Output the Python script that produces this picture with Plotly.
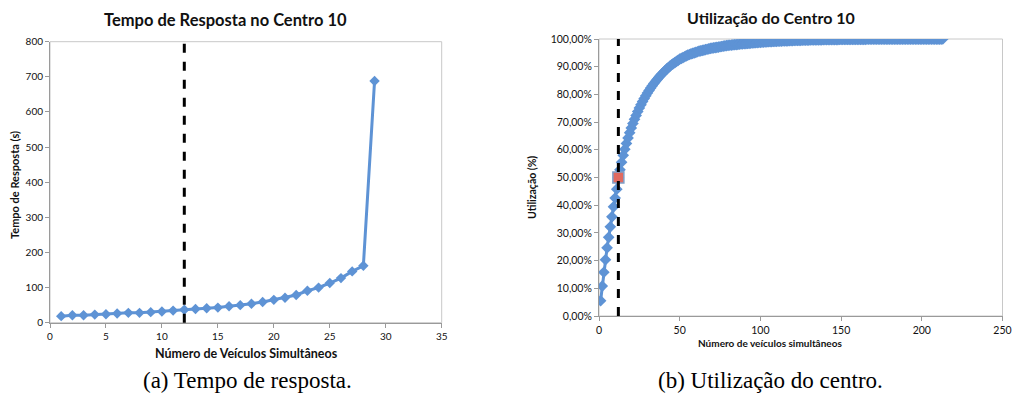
import plotly.graph_objects as go

# ---- Data: chart (a) ----
veiculos_a = list(range(1, 30))
tempo_resposta = [18.7, 21, 21, 23, 24, 26, 28, 28, 30, 32,
                  34.5, 37, 39, 41, 43, 47, 50, 54, 59, 65,
                  71, 79, 91, 100, 113, 127, 146, 162, 688]

# ---- Data: chart (b) ----
veiculos_b = list(range(1, 214))
utilizacao_pct = [
    5.5, 10.8, 15.8, 20.3, 24.6, 28.4, 32.2, 35.8, 39.4, 42.6,
    45.8, 50.0, 52.8, 55.5, 58.0, 60.2, 62.3, 64.3, 66.2, 67.9,
    69.5, 71.0, 72.4, 73.8, 75.1, 76.3, 77.4, 78.5, 79.5, 80.5,
    81.4, 82.3, 83.1, 83.9, 84.7, 85.4, 86.1, 86.8, 87.4, 88.0,
    88.6, 89.2, 89.7, 90.2, 90.7, 91.1, 91.5, 91.9, 92.3, 92.7,
    93.0, 93.3, 93.6, 93.9, 94.2, 94.4, 94.6, 94.8, 95.0, 95.2,
    95.4, 95.6, 95.7, 95.9, 96.0, 96.2, 96.3, 96.4, 96.6, 96.7,
    96.8, 96.9, 97.0, 97.1, 97.2, 97.3, 97.4, 97.5, 97.6, 97.7,
    97.75, 97.8, 97.9, 97.95, 98.0, 98.05, 98.1, 98.2, 98.25, 98.3,
    98.35, 98.4, 98.45, 98.5, 98.55, 98.6, 98.65, 98.7, 98.75, 98.8,
    98.85, 98.9, 98.92, 98.95, 99.0, 99.03, 99.06, 99.1, 99.13, 99.16,
    99.19, 99.22, 99.25, 99.27, 99.3, 99.32, 99.35, 99.38, 99.4, 99.43,
    99.45, 99.47, 99.49, 99.51, 99.53, 99.55, 99.57, 99.58, 99.6, 99.61,
    99.63, 99.64, 99.66, 99.67, 99.68, 99.7, 99.71, 99.72, 99.73, 99.74,
    99.75, 99.76, 99.77, 99.78, 99.79, 99.8, 99.8, 99.81, 99.82, 99.83,
    99.83, 99.84, 99.85, 99.85, 99.86, 99.86, 99.87, 99.87, 99.88, 99.88,
    99.89, 99.89, 99.9, 99.9, 99.9, 99.91, 99.91, 99.91, 99.92, 99.92,
    99.92, 99.93, 99.93, 99.93, 99.93, 99.94, 99.94, 99.94, 99.94, 99.95,
    99.95, 99.95, 99.95, 99.95, 99.96, 99.96, 99.96, 99.96, 99.96, 99.97,
    99.97, 99.97, 99.97, 99.97, 99.97, 99.97, 99.98, 99.98, 99.98, 99.98,
    99.98, 99.98, 99.98, 99.98, 99.99, 99.99, 99.99, 99.99, 99.99, 99.99,
    99.99, 99.99, 100.0,
]
utilizacao = [v / 100 for v in utilizacao_pct]

limite_x = 12          # dashed reference line (both charts)
destaque_idx = 11      # highlighted point (n = 12) in chart (b)

titulo_a = "Tempo de Resposta no Centro 10"
titulo_b = "Utilização do Centro 10"
xlabel_a = "Número de Veículos Simultâneos"
ylabel_a = "Tempo de Resposta (s)"
xlabel_b = "Número de veículos simultâneos"
ylabel_b = "Utilização (%)"
legenda_a = "(a) Tempo de resposta."
legenda_b = "(b) Utilização do centro."

FONT = "Lato"
BLUE = "#5E93D5"

# page body has an 8px margin; figure is sized so the page never scrolls
OFF = 8
W, H = 1021 - 2 * OFF, 408 - 2 * OFF

def px_x(p):
    return (p - OFF) / W

def px_y(p):
    return 1 - (p - OFF) / H

fig = go.Figure()

fig.add_trace(go.Scatter(
    x=veiculos_a, y=tempo_resposta, mode="lines+markers",
    line=dict(color=BLUE, width=3),
    marker=dict(symbol="diamond", size=8, color=BLUE),
    xaxis="x", yaxis="y", showlegend=False, hoverinfo="x+y"))

fig.add_trace(go.Scatter(
    x=veiculos_b, y=utilizacao, mode="lines+markers",
    line=dict(color=BLUE, width=3),
    marker=dict(symbol="diamond", size=9, color=BLUE),
    xaxis="x2", yaxis="y2", showlegend=False, hoverinfo="x+y"))

fig.add_trace(go.Scatter(
    x=[veiculos_b[destaque_idx]], y=[utilizacao[destaque_idx]], mode="markers",
    marker=dict(symbol="square", size=11, color="#E06A60",
                line=dict(color="#7F9FC8", width=1.5)),
    xaxis="x2", yaxis="y2", showlegend=False))

axis_common = dict(
    showgrid=False, zeroline=False, showline=True, linecolor="#9A9A9A",
    linewidth=1, ticks="outside", ticklen=4, tickcolor="#9A9A9A",
    mirror=False, automargin=False, ticklabeloverflow="allow",
)

fig.update_layout(
    width=W, height=H,
    margin=dict(l=0, r=0, t=0, b=0),
    paper_bgcolor="white", plot_bgcolor="white",
    separators=",.",
    font=dict(family=FONT, color="#111111"),
    xaxis=dict(domain=[px_x(50), px_x(441.7)], range=[0, 35], dtick=5,
               tickfont=dict(size=10, family=FONT), anchor="y", **axis_common),
    yaxis=dict(domain=[px_y(322.7), px_y(41.7)], range=[0, 800], dtick=100,
               tickfont=dict(size=10, family=FONT), anchor="x", **axis_common),
    xaxis2=dict(domain=[px_x(599), px_x(1002.5)], range=[0, 250], dtick=50,
                tickfont=dict(size=10.5, family=FONT), anchor="y2", **axis_common),
    yaxis2=dict(domain=[px_y(316), px_y(39)], range=[0, 1], dtick=0.1,
                tickformat=".2%", tickfont=dict(size=10.5, family=FONT),
                anchor="x2", **axis_common),
)

# plot-area frames (light gray border)
for xr, yr in (("x domain", "y domain"), ("x2 domain", "y2 domain")):
    fig.add_shape(type="rect", xref=xr, yref=yr, x0=0, x1=1, y0=0, y1=1,
                  line=dict(color="#C8C8C8", width=1), layer="below")

# dashed vertical lines
fig.add_shape(type="line", xref="x", yref="y domain", x0=limite_x, x1=limite_x,
              y0=0, y1=1, line=dict(color="black", width=3, dash="dash"))
fig.add_shape(type="line", xref="x2", yref="y2 domain", x0=limite_x, x1=limite_x,
              y0=0, y1=1, line=dict(color="black", width=3, dash="dash"))

def ann(text, x, y, size, bold=True, angle=0, family=FONT, color="#111111"):
    fig.add_annotation(text=f"<b>{text}</b>" if bold else text,
                       xref="paper", yref="paper", x=px_x(x), y=px_y(y),
                       showarrow=False, textangle=angle,
                       xanchor="center", yanchor="middle",
                       font=dict(size=size, family=family, color=color))

ann(titulo_a, 225, 20, 16.5)
ann(titulo_b, 771, 18, 16)
ann(xlabel_a, 246, 353, 12.5)
ann(ylabel_a, 15, 185, 11, angle=-90)
ann(xlabel_b, 770, 343, 10)
ann(ylabel_b, 532, 188, 10.5, angle=-90)
ann(legenda_a, 247, 380, 23, bold=False,
    family="Liberation Serif", color="#000000")
ann(legenda_b, 770, 380, 23, bold=False,
    family="Liberation Serif", color="#000000")

fig.write_html("out.html")
